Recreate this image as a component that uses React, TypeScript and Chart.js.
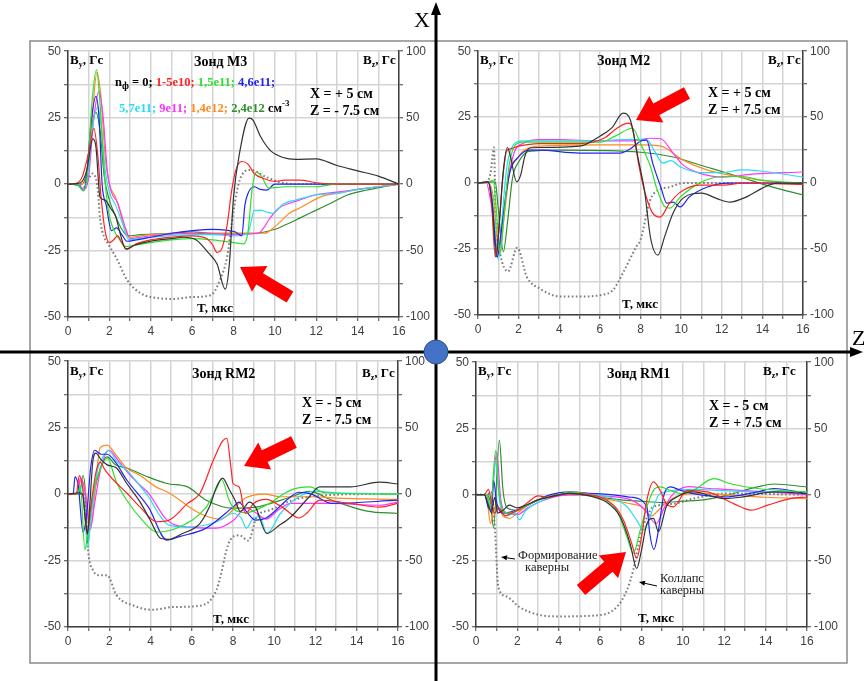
import React, { useEffect, useRef } from 'react';
import { Chart, registerables } from 'chart.js';

Chart.register(...registerables);

type P = [number, number];

// ---------- series legend / colours ----------
const seriesLabels = ['0', '1-5e10', '1,5e11', '4,6e11', '5,7e11', '9e11', '1,4e12', '2,4e12'];
const seriesColors = ['#333333', '#ff2424', '#2ee02e', '#2424f0', '#26def0', '#ff33ff', '#ff8a1f', '#2f8f2f'];
const bzColor = '#7a7a7a';

// ---------- axis ticks ----------
const xMin = 0, xMax = 16, xStep = 1, xLabelEvery = 2;
const byMin = -50, byMax = 50, byStep = 12.5, byLabelEvery = 25;
const bzMin = -100, bzMax = 100, bzStep = 25, bzLabelEvery = 50;

// ---------- Зонд М3 (X=+5, Z=-7.5) ----------
const m3Black: P[] = [[0,0],[0.6,0.5],[0.9,5],[1.2,17],[1.35,14],[1.55,-5],[1.8,-6],[2.05,-9],[2.3,-12],[2.5,-18],[2.8,-24.5],[3.2,-23],[4,-21.5],[5,-20.5],[5.6,-20],[6.2,-21],[6.8,-26],[7.2,-30],[7.6,-39.5],[7.8,-30],[8.0,-5],[8.3,12],[8.75,24.8],[8.95,24],[9.3,18],[9.8,12.5],[10.4,10],[11,9.3],[12,9.5],[13,7],[14,5],[15,3],[16,0]];
const m3Red: P[] = [[0,0],[0.4,0.3],[0.7,3],[1.0,12],[1.25,21],[1.45,10],[1.6,-5],[1.8,-18],[2.0,-22],[2.2,-21],[2.4,-19.5],[2.6,-22],[2.85,-24.5],[3.3,-22.5],[4,-21],[5,-20],[6,-19.5],[6.7,-20.5],[7.0,-23],[7.2,-25.7],[7.45,-24],[7.7,-15],[7.9,-3],[8.1,5],[8.4,8.5],[8.7,7.5],[9.0,4],[9.5,2],[10,1],[10.5,1.5],[11.2,1.5],[12,0.5],[13,0],[16,0]];
const m3Lime: P[] = [[0,0],[0.5,-0.5],[0.75,-2.5],[0.95,5],[1.15,30],[1.38,43],[1.55,30],[1.75,5],[1.95,-10],[2.2,-17],[2.5,-21],[2.8,-23.5],[3.2,-23],[4,-22],[5,-21],[6,-20.5],[7,-21],[8,-22],[8.5,-22.5],[8.7,-18],[8.9,-2],[9.1,4.5],[9.35,3],[9.7,-1.5],[10.5,-1],[12,-1],[13,0],[16,0]];
const m3Blue: P[] = [[0,0],[0.5,-0.5],[0.75,-2.5],[0.9,3],[1.1,22],[1.35,33],[1.5,25],[1.65,0],[1.85,-8],[2.1,-17.5],[2.35,-16.5],[2.6,-19],[2.85,-21.5],[3.3,-21],[4,-20],[5,-18.5],[6,-17.5],[7,-17],[8.1,-18],[8.4,-19.5],[8.55,-8],[8.7,-3.5],[9.0,-1],[9.3,-2],[9.6,-2.3],[10,0],[16,0]];
const m3Cyan: P[] = [[0,0],[0.5,-0.3],[0.75,-2.5],[0.95,3],[1.2,22],[1.45,29],[1.6,22],[1.8,5],[2.0,-3],[2.3,-8],[2.6,-14],[2.95,-21],[3.4,-20.5],[4,-20],[6,-19],[7,-19],[8,-19.5],[8.7,-18.5],[9.0,-10],[9.3,-9.8],[9.6,-10.5],[9.9,-11],[10.4,-7.5],[11,-6],[12,-4],[13,-3.5],[14,-2],[15,-1],[16,0]];
const m3Magenta: P[] = [[0,0],[0.5,-0.3],[0.8,-2],[1.0,3],[1.25,25],[1.5,35],[1.7,25],[1.9,5],[2.1,-3],[2.4,-7],[2.6,-12],[2.8,-17],[3.0,-20.5],[3.5,-20],[4,-19.5],[6,-18.5],[8,-19],[9.2,-18.5],[9.5,-16],[9.7,-13.5],[10.2,-9],[10.6,-7.5],[11,-6.5],[12,-4],[13,-3],[14,-2],[15,-1],[16,0]];
const m3Orange: P[] = [[0,0],[0.6,0],[0.85,1],[1.1,18],[1.4,42],[1.6,32],[1.8,10],[2.0,0],[2.3,-5],[2.5,-10],[2.75,-17],[3.0,-20],[3.5,-19.5],[4,-19],[6,-18.5],[8,-18.5],[9.5,-18.5],[10,-16],[10.7,-11],[11.2,-9],[11.7,-6.8],[12.3,-4.5],[13,-3.5],[14,-2],[15,-1],[16,0]];
const m3DkGreen: P[] = [[0,0],[0.6,0],[0.9,4],[1.15,22],[1.35,27],[1.55,20],[1.75,3],[2.0,-6],[2.3,-12],[2.6,-17],[2.9,-19.5],[3.5,-19],[5,-18.5],[6,-18],[7,-18.5],[8,-18.5],[9,-18.5],[10,-17],[10.6,-15],[11.2,-12.8],[12,-9.8],[12.8,-6.8],[13.5,-4.1],[14.4,-2.3],[15.4,-0.8],[16,0]];
const m3Bz: P[] = [[0,0],[0.5,0],[0.8,-2],[1.0,4],[1.2,8],[1.35,4],[1.45,-6],[1.55,-26],[1.75,-40],[1.9,-44],[2.35,-56],[2.85,-72],[3.5,-82],[4.45,-86],[5.1,-86.4],[6,-85],[6.9,-83.6],[7.35,-72],[7.7,-54],[8.0,-20],[8.3,3],[8.8,10.6],[9.6,5.2],[10.2,1.6],[11,0],[16,0]];

// ---------- Зонд М2 (X=+5, Z=+7.5) ----------
const m2Black: P[] = [[0,0],[0.5,0.5],[0.7,-8],[0.9,-28],[1.05,-15],[1.25,5],[1.45,13.5],[1.6,10],[1.9,0.5],[2.1,3],[2.3,10],[2.55,13.3],[3,13.5],[5,14],[6,17.8],[6.6,21],[7.14,26.5],[7.5,23.9],[7.9,8.7],[8.2,-3],[8.5,-21],[8.86,-27.3],[9.2,-20],[9.6,-11.4],[10.1,-5.7],[11,-3.8],[11.8,-6],[12.4,-7.2],[13.2,-5.3],[14,-1.9],[14.7,0],[16,0]];
const m2Red: P[] = [[0,0],[0.5,0.5],[0.65,-5],[0.85,-28],[1.0,-20],[1.2,0],[1.4,12],[1.6,13],[2,14],[3,15],[5,15],[6.2,17],[6.84,20.8],[7.4,22.7],[7.6,21],[7.9,7.6],[8.2,-3],[8.57,-11],[8.96,-12.9],[9.4,-8],[9.9,-3.8],[10.9,-0.8],[12.1,-0.8],[13,0],[16,-0.5]];
const m2Lime: P[] = [[0,0],[0.5,0.5],[0.75,1],[0.9,-10],[1.1,-27],[1.25,-15],[1.5,5],[1.8,14],[2.2,15.5],[4,15.5],[6,15.5],[6.8,18],[7.6,20.8],[8.0,15],[8.5,6],[8.8,-2],[9.2,-9],[9.45,-9.5],[9.95,-5.3],[10.9,0],[12,2.5],[13,2.5],[14,1],[16,0]];
const m2Blue: P[] = [[0,0],[0.5,0.3],[0.7,-8],[0.95,-28],[1.15,-18],[1.4,-3],[1.6,5],[2.0,10],[2.5,12.5],[3,12.5],[5,11.4],[7,11.4],[7.5,13],[8.1,16.2],[8.3,16.3],[8.6,7.6],[9,-1.5],[9.3,-7.6],[9.6,-7.2],[9.95,-9],[10.4,-5.3],[11.3,-1.5],[12.3,0],[16,0]];
const m2Cyan: P[] = [[0,0],[0.5,0.3],[0.7,-5],[1.0,-29],[1.2,-12],[1.4,5],[1.7,14],[2.2,16],[4,16],[6,16],[7,16.5],[8.3,16.5],[8.7,12],[9.1,7.6],[9.5,8.5],[10,6],[11,4],[12,4],[13,5],[14,4.5],[16,2.3]];
const m2Magenta: P[] = [[0,0],[0.4,0.3],[0.65,-8],[1.0,-27],[1.2,-15],[1.5,2],[1.8,12],[2.2,15],[3,16.5],[4,16.5],[6,16],[7.5,16],[8.5,17],[9,16.8],[9.6,11.4],[10.1,6.8],[10.9,3.8],[12.1,2.3],[13.5,3.4],[16,4.2]];
const m2Orange: P[] = [[0,0],[0.5,0.3],[0.75,-5],[1.05,-27],[1.3,-12],[1.6,6],[1.9,9],[2.2,12],[3,14],[6,14.5],[8,14.5],[9,14],[10.1,8.7],[11.3,4.9],[12.9,2.3],[14,1],[16,-0.5]];
const m2DkGreen: P[] = [[0,0],[0.5,0.3],[0.85,0.5],[1.0,-10],[1.25,-26],[1.45,-15],[1.7,2],[2.0,8],[2.5,12],[4,12.5],[8,11.7],[9.6,9.9],[11.3,6],[12.9,2.3],[14.5,-1.5],[16,-4.5]];
const m2Bz: P[] = [[0,0],[0.45,1],[0.62,8],[0.79,27],[0.86,-24],[1.08,-53],[1.48,-67],[1.93,-49],[2.4,-71],[3.05,-80],[4.04,-86],[5,-86],[6,-85],[6.65,-81],[7.14,-68],[7.8,-48],[8.0,-43],[8.47,-13],[8.86,-5.4],[9.45,-3],[10.1,0],[16,0]];

// ---------- Зонд RM2 (X=-5, Z=-7.5) ----------
const rm2Black: P[] = [[0,0],[0.55,0.5],[0.7,0],[0.85,-10],[0.95,-15],[1.05,-5],[1.2,12],[1.35,15.4],[1.6,13],[1.9,11],[2.35,9.8],[2.85,4],[3.5,-3],[4,-10],[4.5,-16.7],[4.9,-17],[5.5,-15],[6.4,-11],[6.9,-4],[7.2,2.7],[7.5,6],[7.8,2],[8.1,-2.3],[8.35,-6.5],[8.8,-3],[9.1,-5],[9.64,-14.8],[10.2,-12],[10.8,-8.6],[11.7,-1],[12.2,2.7],[13.7,2.7],[15.1,4.5],[16,3.8]];
const rm2Red: P[] = [[0,0],[0.4,0],[0.55,7],[0.7,3],[0.92,-14.8],[1.1,-5],[1.35,8],[1.55,12],[1.8,9],[2.2,5.3],[2.85,0.4],[3.5,-4.9],[4.3,-10.4],[4.9,-9.8],[5.8,-3.5],[6.4,0.3],[7.05,12.8],[7.5,20],[7.7,21],[7.9,10],[8.0,4],[8.3,2.7],[8.6,-7.3],[9,-3.5],[9.6,-2],[10.4,-5],[11.2,-9],[11.6,-7],[12.2,-2.3],[13.7,-3.5],[15.1,-4.9],[16,-3.5]];
const rm2Lime: P[] = [[0,0],[0.45,0],[0.6,3],[0.82,-21],[0.95,-15],[1.2,0],[1.5,8],[1.9,13.5],[2.35,4.5],[2.85,-2.3],[3.6,-9.8],[4.3,-14.3],[5.4,-12.4],[6.7,-4.9],[7.2,2],[7.45,5.5],[7.8,-2],[8.1,-6],[8.6,-7],[9.6,-4.2],[10.8,1.5],[11.7,2.7],[12.5,0.5],[16,0]];
const rm2Blue: P[] = [[0,0],[0.25,0],[0.34,6.5],[0.5,3],[0.73,-14.3],[0.9,-8],[1.1,10],[1.3,16.5],[1.6,15],[1.9,15],[2.3,12],[2.85,5.3],[3.9,-4.9],[4.8,-17.3],[5.4,-16],[6.7,-12.8],[8,-4.9],[8.3,-3],[8.6,-6],[9.1,-9.8],[9.6,-9],[10.8,-1],[11.2,0.7],[11.8,0],[12.8,-3.5],[16,-2.3]];
const rm2Cyan: P[] = [[0,0],[0.5,0],[0.7,4],[0.95,-20],[1.1,-10],[1.4,8],[1.7,14],[1.95,16.5],[2.4,12],[2.85,9],[3.4,4],[3.9,-1],[4.5,-8.6],[4.9,-11.7],[5.8,-12.4],[7.2,-10.5],[8,-7.3],[8.4,-9],[8.65,-12.8],[9.0,-9],[9.3,-8.6],[9.64,-14.8],[10.3,-7.3],[11.2,-1],[12,1],[13,0.5],[16,0]];
const rm2Magenta: P[] = [[0,0],[0.45,0],[0.6,6],[0.8,2],[1.07,-13.5],[1.3,-3],[1.6,10],[2.0,16.5],[2.4,13],[2.85,8.6],[3.4,4],[3.9,0.4],[4.8,-9.8],[5.8,-12.4],[7.2,-12.8],[8,-10],[8.65,-5.3],[9.1,-7],[9.6,-9.4],[10.2,-6],[10.8,-3.5],[12.8,-3.5],[15.1,-4.2],[16,-3]];
const rm2Orange: P[] = [[0,0],[0.45,0],[0.6,5],[0.8,3],[1.1,-12],[1.3,0],[1.55,17.3],[1.9,18.4],[2.3,15],[2.85,9.8],[3.5,7],[4.2,3],[4.9,0.4],[6.4,-7.3],[7.4,-9.4],[8.3,-3.5],[8.6,-1.5],[9.5,0],[10.3,-1],[11.9,-1],[13,-1.5],[16,-2]];
const rm2DkGreen: P[] = [[0,0],[0.55,0],[0.73,7],[0.85,0],[0.95,-18.5],[1.15,-5],[1.5,8],[1.9,14],[2.3,11],[2.85,9.8],[3.9,6.4],[4.8,4],[5.8,2.7],[6.7,-2.3],[8,-5.3],[9.1,-4.9],[10.8,-1.1],[11.7,1],[12.8,-2.3],[14.5,-6.4],[16,-7.3]];
const rm2Bz: P[] = [[0,0],[0.8,0],[0.97,-42],[1.2,-57],[1.55,-61],[1.9,-61],[2.35,-76],[3.2,-84],[4.1,-87],[5.1,-85],[6.4,-84],[7.2,-72],[7.85,-35],[8.3,-31],[8.75,-35],[9.15,-17],[9.8,-12],[10.8,-5],[11.7,-2],[12.8,-0.6],[14.5,0],[16,0]];

// ---------- Зонд RM1 (X=-5, Z=+7.5) ----------
const rm1Black: P[] = [[0,0],[0.4,0],[0.6,-4],[0.75,-7],[0.9,-1],[1.05,-7],[1.3,-6],[1.6,-4],[2.0,-5],[2.4,-4],[3,-2],[3.5,-1],[4.5,0.5],[5.5,-0.5],[6.3,-2.8],[6.97,-8.4],[7.45,-18.5],[7.77,-27.9],[8.0,-21],[8.26,-11],[8.58,-9],[8.82,-14],[9.2,-4.6],[9.7,-0.9],[10.5,1],[12,-1.5],[12.8,-1],[14.4,1],[16,0.4]];
const rm1Red: P[] = [[0,0],[0.4,0],[0.6,2],[0.75,-3],[0.9,-7],[1.1,-5],[1.4,-8],[1.7,-7],[2,-6],[2.5,-3],[3,-0.5],[3.5,-1],[4.5,0.5],[5.5,0],[6.65,-4],[7.13,-9.7],[7.53,-18.5],[7.77,-24],[8.0,-16],[8.26,-2.1],[8.58,4.8],[8.9,1.6],[9.2,-3.4],[9.55,-4.6],[10.2,1.6],[11.2,1],[12.45,-3.4],[13.3,-5.9],[14.1,-4],[15.2,-1.5],[16,-0.9]];
const rm1Lime: P[] = [[0,0],[0.5,0],[0.7,-5],[0.95,16.6],[1.1,2],[1.3,-6],[1.6,-7],[2,-6],[2.5,-4],[3,-2],[4,0],[4.5,1],[5.5,0],[6.3,-2.1],[6.8,-5.9],[7.3,-16],[7.6,-22.2],[7.94,-13.4],[8.26,-4.6],[8.58,1.6],[8.9,2.9],[9.4,1.6],[9.9,0.4],[10.5,1.6],[11.5,6],[12.3,4.1],[13.6,2.3],[16,1]];
const rm1Blue: P[] = [[0,0],[0.4,0],[0.6,-5],[0.75,-6],[0.85,5.4],[1.0,-3],[1.3,-7],[1.7,-6.5],[2.1,-5.5],[2.5,-4],[3,-2],[3.6,0],[4.5,1],[5.5,0.5],[6.5,0],[7.5,-1],[8.26,-4.6],[8.4,-14.7],[8.6,-20.7],[8.82,-13.4],[9.06,-0.9],[9.4,2.9],[9.9,1.6],[10.5,0.4],[12,-0.9],[13.6,1],[14.4,2.3],[16,0.4]];
const rm1Cyan: P[] = [[0,0],[0.5,0],[0.7,-4],[0.95,12],[1.15,-3],[1.5,-8],[1.9,-7],[2.1,-9.5],[2.4,-6],[3,-3],[4,0],[4.5,0.5],[5.5,0],[6.5,-1],[7.3,-4.6],[7.77,-9.7],[8.1,-13.4],[8.3,-11],[8.58,-4.6],[8.9,0.4],[10.5,2],[12,1.5],[14,1],[16,1]];
const rm1Magenta: P[] = [[0,0],[0.5,0],[0.7,-5],[1.0,16],[1.2,-2],[1.5,-7],[2,-7.5],[2.5,-5],[3,-3],[4,-0.5],[5,0],[6,-0.5],[7.5,-2],[8.2,-6],[8.7,-11],[9.1,-5],[9.5,0],[10.3,3],[11,2.5],[12,2],[14,1],[16,0]];
const rm1Orange: P[] = [[0,0],[0.4,0],[0.55,-3],[0.7,-11],[0.85,-6],[1.0,-4],[1.3,-8],[1.6,-9],[2,-7],[2.5,-4],[3,-2],[4,0],[5,0],[6.5,-2],[7.5,-3.5],[8,-4.6],[8.5,-8],[8.8,-6],[9.2,-3],[10,0],[11,0.5],[12,0],[14,-1],[16,-1.5]];
const rm1DkGreen: P[] = [[0,0],[0.5,0],[0.7,-3],[0.85,-12.5],[1.13,20.6],[1.3,2],[1.5,-5],[2,-6],[2.5,-4],[3,-2],[4,0],[5,0],[6,-1],[7,-2],[8,-2.5],[9,-3],[10,-2.5],[11,-2],[12,-0.5],[13.6,2.9],[14.4,4],[16,2.9]];
const rm1Bz: P[] = [[0,0],[0.55,0],[0.72,2],[0.84,-10],[0.92,-27],[1.08,-70],[1.48,-77],[2.1,-85],[3.1,-91],[4.06,-92],[6,-91],[6.8,-85],[7.3,-72],[7.6,-57],[7.94,-32],[8.26,-17],[8.6,-9],[9.55,-7],[10.5,-3],[12,0.8],[16,0]];

// ---------- panel set-up ----------
type Area = { left: number; top: number; right: number; bottom: number };
type PanelDef = { id: string; area: Area; series: P[][]; bz: P[] };

const PANELS: PanelDef[] = [
  { id: 'M3', area: { left: 68, top: 51, right: 399, bottom: 317 }, series: [m3Black, m3Red, m3Lime, m3Blue, m3Cyan, m3Magenta, m3Orange, m3DkGreen], bz: m3Bz },
  { id: 'M2', area: { left: 478, top: 51, right: 803, bottom: 315 }, series: [m2Black, m2Red, m2Lime, m2Blue, m2Cyan, m2Magenta, m2Orange, m2DkGreen], bz: m2Bz },
  { id: 'RM2', area: { left: 68, top: 361, right: 398, bottom: 627 }, series: [rm2Black, rm2Red, rm2Lime, rm2Blue, rm2Cyan, rm2Magenta, rm2Orange, rm2DkGreen], bz: rm2Bz },
  { id: 'RM1', area: { left: 476, top: 362, right: 807, bottom: 627 }, series: [rm1Black, rm1Red, rm1Lime, rm1Blue, rm1Cyan, rm1Magenta, rm1Orange, rm1DkGreen], bz: rm1Bz },
];

const AXW = 40, AXH = 24, PADT = 10;
const TICK_FONT = { family: "'Liberation Sans', Arial, sans-serif", size: 12 };
const TICK_COLOR = '#404040';
const GRID_COLOR = '#d4d4d4';

function Panel({ p }: { p: PanelDef }) {
  const ref = useRef<HTMLCanvasElement | null>(null);
  const { area } = p;
  const w = area.right - area.left + 2 * AXW;
  const h = area.bottom - area.top + PADT + AXH;
  useEffect(() => {
    if (!ref.current) return;
    const datasets: any[] = p.series.map((s, i) => ({
      label: seriesLabels[i],
      data: s.map(([x, y]) => ({ x, y })),
      borderColor: seriesColors[i],
      backgroundColor: seriesColors[i],
      borderWidth: 1.2,
      pointRadius: 0,
      cubicInterpolationMode: 'monotone',
      fill: false,
      yAxisID: 'y',
    }));
    datasets.push({
      label: 'Bz',
      data: p.bz.map(([x, y]) => ({ x, y })),
      borderColor: bzColor,
      borderWidth: 2,
      borderDash: [1.6, 2.4],
      pointRadius: 0,
      cubicInterpolationMode: 'monotone',
      fill: false,
      yAxisID: 'y2',
    });
    const gridCommon = { color: GRID_COLOR, lineWidth: 1.5, tickLength: 4, tickColor: TICK_COLOR, tickWidth: 1 };
    const border = { display: true, color: TICK_COLOR, width: 1.5 };
    const chart = new Chart(ref.current, {
      type: 'line',
      data: { datasets },
      options: {
        responsive: false,
        animation: false,
        events: [],
        layout: { padding: { top: PADT, left: 0, right: 0, bottom: 0 } },
        plugins: { legend: { display: false }, tooltip: { enabled: false } },
        scales: {
          x: {
            type: 'linear', min: xMin, max: xMax,
            ticks: { stepSize: xStep, autoSkip: false, maxRotation: 0, padding: 3, font: TICK_FONT, color: TICK_COLOR,
              callback: (v: any) => (Math.round(v) % xLabelEvery === 0 ? String(v) : '') },
            grid: gridCommon, border,
            afterFit: (s: any) => { s.height = AXH; },
          },
          y: {
            type: 'linear', position: 'left', min: byMin, max: byMax,
            ticks: { stepSize: byStep, autoSkip: false, padding: 3, font: TICK_FONT, color: TICK_COLOR,
              callback: (v: any) => (Math.abs(v % byLabelEvery) < 1e-9 ? String(v) : '') },
            grid: gridCommon, border,
            afterFit: (s: any) => { s.width = AXW; },
          },
          y2: {
            type: 'linear', position: 'right', min: bzMin, max: bzMax,
            ticks: { stepSize: bzStep, autoSkip: false, padding: 3, font: TICK_FONT, color: TICK_COLOR,
              callback: (v: any) => (Math.abs(v % bzLabelEvery) < 1e-9 ? String(v) : '') },
            grid: { ...gridCommon, drawOnChartArea: false }, border,
            afterFit: (s: any) => { s.width = AXW; },
          },
        },
      } as any,
    });
    return () => chart.destroy();
  }, []);
  return (
    <canvas ref={ref} width={w} height={h}
      style={{ position: 'absolute', left: area.left - AXW, top: area.top - PADT, width: w, height: h }} />
  );
}

// ---------- overlay helpers ----------
const SERIF = "'Liberation Serif', 'Times New Roman', serif";

function bigArrow(tx: number, ty: number, px: number, py: number, w1 = 6.5, w2 = 15, hl = 23) {
  const dx = px - tx, dy = py - ty;
  const L = Math.hypot(dx, dy);
  const ux = dx / L, uy = dy / L;
  const nx = -uy, ny = ux;
  const bx = px - ux * hl, by = py - uy * hl;
  const pts = [
    [tx + nx * w1, ty + ny * w1], [bx + nx * w1, by + ny * w1], [bx + nx * w2, by + ny * w2],
    [px, py], [bx - nx * w2, by - ny * w2], [bx - nx * w1, by - ny * w1], [tx - nx * w1, ty - ny * w1],
  ];
  return pts.map(q => q.join(',')).join(' ');
}

function smallArrow(tx: number, ty: number, px: number, py: number) {
  const dx = px - tx, dy = py - ty;
  const L = Math.hypot(dx, dy);
  const ux = dx / L, uy = dy / L;
  const nx = -uy, ny = ux;
  const bx = px - ux * 6, by = py - uy * 6;
  return {
    line: { x1: tx, y1: ty, x2: bx, y2: by },
    head: [[px, py], [bx + nx * 2.5, by + ny * 2.5], [bx - nx * 2.5, by - ny * 2.5]].map(q => q.join(',')).join(' '),
  };
}

function Label({ x, y, base, sub }: { x: number; y: number; base: string; sub: string }) {
  return (
    <text x={x} y={y} fontFamily={SERIF} fontWeight="bold" fontSize={13} fill="#000" style={{ whiteSpace: 'pre' }}>
      {base}<tspan fontSize={8} dy={3}>{sub}</tspan><tspan dy={-3}>, Гс</tspan>
    </text>
  );
}

function BoldText({ x, y, t, size = 14, anchor = 'start' }: { x: number; y: number; t: string; size?: number; anchor?: string }) {
  return (
    <text x={x} y={y} fontFamily={SERIF} fontWeight="bold" fontSize={size} fill="#000" textAnchor={anchor as any} style={{ whiteSpace: 'pre' }}>{t}</text>
  );
}

function Overlay() {
  const a1 = smallArrow(515, 559, 501, 557);
  const a2 = smallArrow(657, 586, 639, 582);
  return (
    <svg width={864} height={681} style={{ position: 'absolute', left: 0, top: 0, pointerEvents: 'none' }}>
      {/* frame */}
      <rect x={30} y={41} width={817} height={622} fill="none" stroke="#8a8a8a" strokeWidth={1.5} />

      {/* panel M3 */}
      <Label x={70} y={64} base="B" sub="y" />
      <Label x={363} y={64} base="B" sub="z" />
      <BoldText x={194} y={66} t="Зонд М3" />
      <BoldText x={310} y={98} t="X = + 5 см" />
      <BoldText x={310} y={115} t="Z = - 7.5 см" />
      <BoldText x={197} y={312} t="T, мкс" size={13} />
      <text x={115} y={86} fontFamily={SERIF} fontWeight="bold" fontSize={12.5} style={{ whiteSpace: 'pre' }}>
        <tspan fill="#000">n</tspan><tspan fill="#000" fontSize={10} dy={3}>ф</tspan>
        <tspan fill="#000" dy={-3}>{' = 0; '}</tspan>
        <tspan fill={seriesColors[1]}>{seriesLabels[1] + '; '}</tspan>
        <tspan fill={seriesColors[2]}>{seriesLabels[2] + '; '}</tspan>
        <tspan fill={seriesColors[3]}>{seriesLabels[3] + ';'}</tspan>
      </text>
      <text x={119} y={112} fontFamily={SERIF} fontWeight="bold" fontSize={12.5} style={{ whiteSpace: 'pre' }}>
        <tspan fill={seriesColors[4]}>{seriesLabels[4] + '; '}</tspan>
        <tspan fill={seriesColors[5]}>{seriesLabels[5] + '; '}</tspan>
        <tspan fill={seriesColors[6]}>{seriesLabels[6] + '; '}</tspan>
        <tspan fill={seriesColors[7]}>{seriesLabels[7] + ' '}</tspan>
        <tspan fill="#000">см</tspan><tspan fill="#000" fontSize={9} dy={-6}>-3</tspan>
      </text>

      {/* panel M2 */}
      <Label x={480} y={64} base="B" sub="y" />
      <Label x={768} y={64} base="B" sub="z" />
      <BoldText x={597} y={65} t="Зонд М2" />
      <BoldText x={708} y={97} t="X = + 5 см" />
      <BoldText x={708} y={114} t="Z = + 7.5 см" />
      <BoldText x={622} y={308} t="T, мкс" size={13} />

      {/* panel RM2 */}
      <Label x={70} y={375} base="B" sub="y" />
      <Label x={362} y={377} base="B" sub="z" />
      <BoldText x={192} y={378} t="Зонд RM2" />
      <BoldText x={302} y={407} t="X = - 5 см" />
      <BoldText x={302} y={424} t="Z = - 7.5 см" />
      <BoldText x={213} y={623} t="T, мкс" size={13} />

      {/* panel RM1 */}
      <Label x={478} y={375} base="B" sub="y" />
      <Label x={763} y={375} base="B" sub="z" />
      <BoldText x={607} y={378} t="Зонд RM1" />
      <BoldText x={709} y={410} t="X = - 5 см" />
      <BoldText x={709} y={427} t="Z = + 7.5 см" />
      <BoldText x={638} y={622} t="T, мкс" size={13} />
      <text x={518} y={559} fontFamily={SERIF} fontSize={12.5} fill="#222">Формирование</text>
      <text x={525} y={571} fontFamily={SERIF} fontSize={12.5} fill="#222">каверны</text>
      <text x={660} y={582} fontFamily={SERIF} fontSize={12.5} fill="#222">Коллапс</text>
      <text x={660} y={594} fontFamily={SERIF} fontSize={12.5} fill="#222">каверны</text>
      <line {...a1.line} stroke="#000" strokeWidth={1} />
      <polygon points={a1.head} fill="#000" />
      <line {...a2.line} stroke="#000" strokeWidth={1} />
      <polygon points={a2.head} fill="#000" />

      {/* red arrows */}
      <polygon points={bigArrow(290, 297, 240, 267)} fill="#ff0000" />
      <polygon points={bigArrow(687, 93, 636, 120)} fill="#ff0000" />
      <polygon points={bigArrow(294, 442, 244, 466)} fill="#ff0000" />
      <polygon points={bigArrow(581, 590, 626, 552)} fill="#ff0000" />

      {/* big coordinate cross */}
      <line x1={436} y1={12} x2={436} y2={681} stroke="#000" strokeWidth={3} />
      <polygon points="436,2 431,15 441,15" fill="#000" />
      <line x1={0} y1={352} x2={852} y2={352} stroke="#000" strokeWidth={3} />
      <polygon points="863,352 850,347 850,357" fill="#000" />
      <text x={414} y={27} fontFamily={SERIF} fontSize={22} fill="#000">X</text>
      <text x={852} y={345} fontFamily={SERIF} fontSize={22} fill="#000">Z</text>
      <circle cx={436} cy={352} r={12} fill="#4472c4" stroke="#2f528f" strokeWidth={1} />
    </svg>
  );
}

export default function App() {
  useEffect(() => {
    document.body.style.margin = '0';
    document.body.style.overflow = 'hidden';
  }, []);
  return (
    <div style={{ position: 'absolute', left: 0, top: 0, width: 864, height: 681, background: '#fff', overflow: 'hidden' }}>
      {PANELS.map(p => <Panel key={p.id} p={p} />)}
      <Overlay />
    </div>
  );
}
